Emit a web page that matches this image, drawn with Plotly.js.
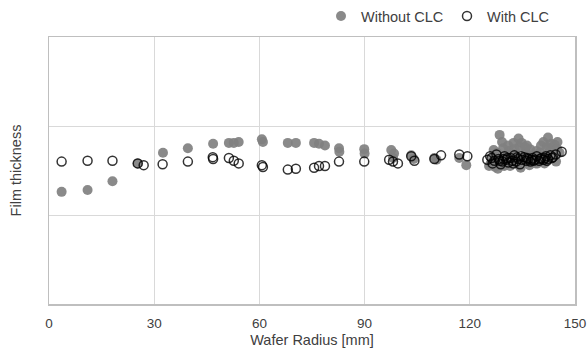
<!DOCTYPE html>
<html>
<head>
<meta charset="utf-8">
<script src="https://cdn.plot.ly/plotly-3.0.1.min.js"></script>
<style>html,body{margin:0;padding:0;background:#fff;}#chart{width:587px;height:353px;}</style>
</head>
<body>
<div id="chart"></div>
<script>
// Without CLC (filled grey)
const radiusWithout = [3.6, 11, 18.1, 25.3, 32.5, 39.6, 46.8, 51.3, 52.7, 54.1, 60.7, 61.0, 68.1, 70.4, 75.6, 77.0, 78.7, 82.7, 82.8, 89.9, 90.0, 97.6, 98.4, 98.1, 103.3, 104.0, 109.9, 110.5, 117.0, 119.0,
  126.0, 126.5, 127.2, 127.8, 128.5, 128.9, 129.5, 130.0, 130.6, 131.2, 131.8, 132.5, 133.0, 133.6, 134.2, 134.8, 135.3, 136.0, 136.6, 137.2, 137.8, 138.4, 139.0, 139.6, 140.3, 141.0, 141.6, 142.3, 142.9, 143.5, 144.2, 145.0, 145.6, 129.2, 133.9,
  125.5, 127.0, 128.0, 129.8, 130.9, 131.5, 132.8, 134.5, 135.8, 137.0, 138.8, 140.0, 141.3, 143.2, 144.6, 126.8, 130.3, 132.2, 136.3, 139.3, 142.0, 144.9];
const thickWithout = [1.26, 1.28, 1.38, 1.58, 1.70, 1.75, 1.80, 1.81, 1.81, 1.82, 1.85, 1.82, 1.81, 1.81, 1.81, 1.80, 1.78, 1.75, 1.71, 1.74, 1.69, 1.73, 1.69, 1.64, 1.67, 1.63, 1.64, 1.62, 1.64, 1.56,
  1.58, 1.65, 1.54, 1.70, 1.90, 1.62, 1.75, 1.56, 1.68, 1.72, 1.60, 1.81, 1.66, 1.57, 1.77, 1.81, 1.63, 1.70, 1.59, 1.74, 1.66, 1.62, 1.72, 1.65, 1.78, 1.82, 1.67, 1.87, 1.74, 1.64, 1.79, 1.82, 1.70, 1.82, 1.86,
  1.55, 1.60, 1.52, 1.55, 1.78, 1.55, 1.74, 1.53, 1.76, 1.56, 1.58, 1.70, 1.58, 1.80, 1.60, 1.73, 1.64, 1.69, 1.78, 1.58, 1.76, 1.74];

// With CLC (open circles)
const radiusWith = [3.6, 11, 18.1, 25.3, 27.0, 32.4, 39.6, 46.7, 46.8, 51.3, 52.7, 54.1, 60.7, 61.0, 68.1, 70.4, 75.6, 77.0, 78.7, 82.7, 89.9, 97.0, 98.1, 99.5, 103.3, 104.2, 109.9, 111.8, 117.0, 119.3,
  125.0, 125.8, 126.5, 127.0, 127.6, 128.2, 128.8, 129.3, 129.9, 130.4, 131.0, 131.6, 132.1, 132.7, 133.2, 133.8, 134.3, 134.9, 135.5, 136.1, 136.7, 137.3, 137.9, 138.5, 139.1, 139.8, 140.4, 141.0, 141.7, 142.3, 143.0, 143.7, 144.5, 146.2,
  126.2, 128.5, 130.7, 132.4, 134.6, 136.4, 138.2, 140.1, 142.0, 143.4, 129.6, 133.5, 137.6, 141.4];
const thickWith = [1.60, 1.61, 1.61, 1.58, 1.56, 1.57, 1.60, 1.65, 1.63, 1.64, 1.61, 1.58, 1.56, 1.54, 1.51, 1.52, 1.53, 1.55, 1.55, 1.60, 1.60, 1.62, 1.60, 1.58, 1.66, 1.61, 1.63, 1.67, 1.68, 1.66,
  1.62, 1.66, 1.58, 1.61, 1.68, 1.63, 1.57, 1.60, 1.66, 1.62, 1.59, 1.64, 1.61, 1.67, 1.60, 1.63, 1.57, 1.62, 1.65, 1.61, 1.63, 1.60, 1.64, 1.62, 1.66, 1.61, 1.64, 1.62, 1.66, 1.63, 1.67, 1.65, 1.68, 1.71,
  1.64, 1.61, 1.64, 1.58, 1.66, 1.64, 1.61, 1.63, 1.61, 1.64, 1.63, 1.65, 1.62, 1.64];

const xTicks = [0, 30, 60, 90, 120, 150];
const textColor = '#404040';

const traces = [
  {
    x: radiusWithout, y: thickWithout, type: 'scatter', mode: 'markers', name: 'Without CLC',
    marker: {symbol: 'circle', size: 10, color: 'rgba(128,128,128,0.92)', line: {width: 0}}
  },
  {
    x: radiusWith, y: thickWith, type: 'scatter', mode: 'markers', name: 'With CLC',
    marker: {symbol: 'circle-open', size: 9, color: 'rgba(0,0,0,0.8)', line: {width: 1.5}}
  }
];

const layout = {
  width: 587, height: 353,
  margin: {l: 49, r: 12, t: 37, b: 49, autoexpand: false},
  paper_bgcolor: '#fff', plot_bgcolor: '#fff',
  font: {family: 'Liberation Sans, Arial, sans-serif', size: 13, color: textColor},
  showlegend: true,
  legend: {orientation: 'h', xref: 'container', x: 321 / 587, xanchor: 'left',
           yref: 'container', y: 1, yanchor: 'top',
           entrywidth: 81, entrywidthmode: 'pixels',
           font: {size: 14.5, color: textColor}, itemwidth: 30},
  xaxis: {
    range: [0, 150], tickvals: xTicks, ticktext: xTicks.map(String),
    showgrid: true, gridcolor: '#d9d9d9', gridwidth: 1,
    showline: true, linecolor: '#bfbfbf', linewidth: 1.5, mirror: true,
    zeroline: false, ticks: 'outside', ticklen: 6, tickcolor: 'rgba(0,0,0,0)',
    tickfont: {size: 13.5, color: textColor},
    title: {text: 'Wafer Radius [mm]', font: {size: 14.5, color: textColor}, standoff: 5}
  },
  yaxis: {
    range: [0, 3], tickvals: [1, 2], showticklabels: false,
    showgrid: true, gridcolor: '#d9d9d9', gridwidth: 1,
    showline: true, linecolor: '#bfbfbf', linewidth: 1.5, mirror: true,
    zeroline: false, ticks: '',
    title: {text: 'Film thickness', font: {size: 14.5, color: textColor}, standoff: 22}
  }
};

Plotly.newPlot('chart', traces, layout, {displayModeBar: false, staticPlot: true});
</script>
</body>
</html>
